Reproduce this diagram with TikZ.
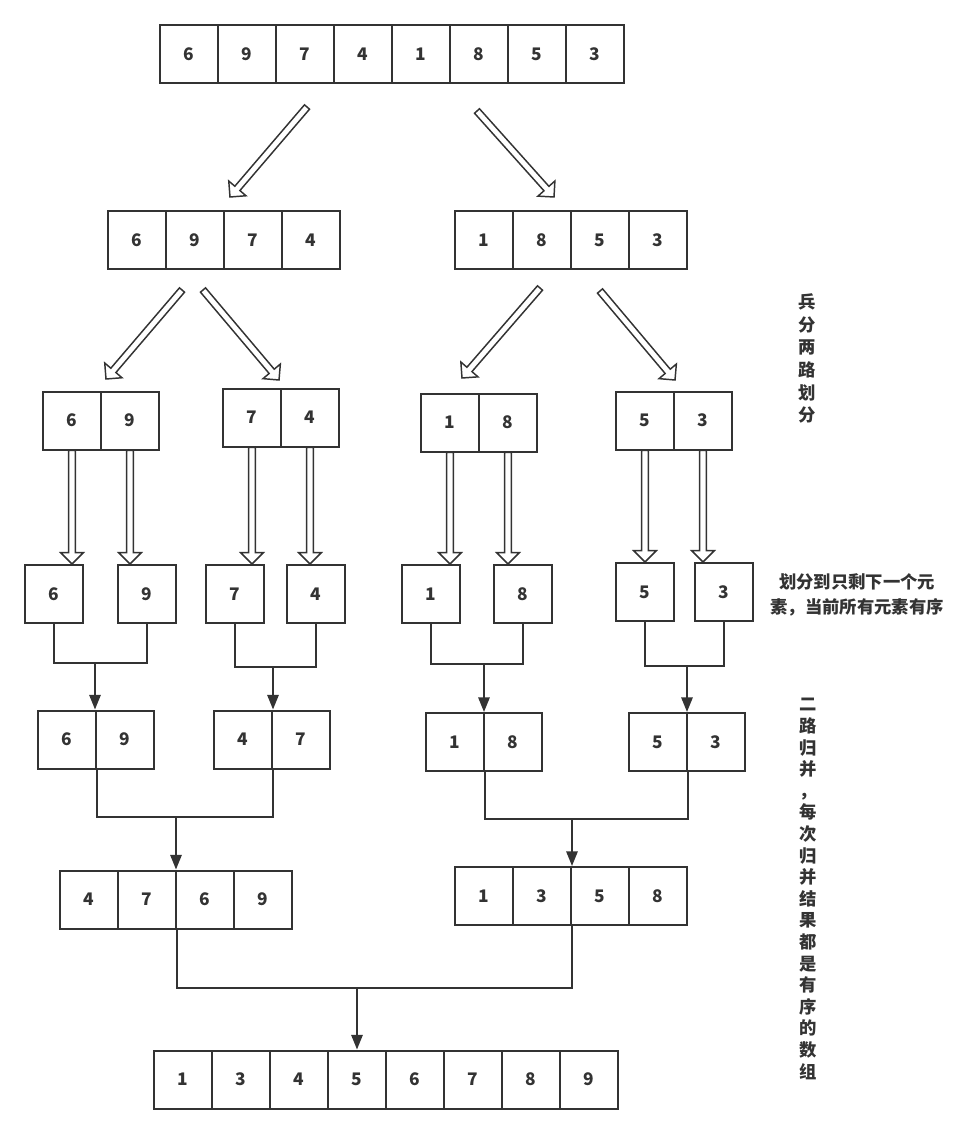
\documentclass[tikz,border=0pt]{standalone}
\usepackage{fontspec}
\newfontfamily\cjk{Noto Sans CJK SC}
\usetikzlibrary{calc,arrows.meta}
\definecolor{ink}{HTML}{333333}
\tikzset{
  cell/.style={draw=ink, line width=1.5pt, minimum width=43.5pt, minimum height=43.5pt, inner sep=0pt, font=\cjk\bfseries\fontsize{13}{15}\selectfont, text=ink},
  harrow/.style={draw=ink, line width=1.1pt, fill=white, line join=miter},
  conn/.style={draw=ink, line width=1.5pt},
  arr/.style={conn, -{Triangle[length=11pt,width=8.5pt]}},
  note/.style={font=\cjk\bfseries\fontsize{13}{#1}\selectfont, text=ink, align=center, inner sep=0pt},
}
\newcommand\cellrow[4]{\foreach \v [count=\i] in {#4} {\node[cell] (#1-\i) at ({#2+29+58*(\i-1)},#3) {\v};}}
\newcommand\hollowarrow[2]{%
  \coordinate (hb) at ($(#2)!8.5pt!(#1)$);
  \path[harrow] ($(#1)!2.5pt!90:(#2)$) -- ($(hb)!2.5pt!90:(#2)$) -- ($(hb)!8.5pt!90:(#2)$) -- (#2) -- ($(hb)!8.5pt!-90:(#2)$) -- ($(hb)!2.5pt!-90:(#2)$) -- ($(#1)!2.5pt!-90:(#2)$) -- cycle;
}
\begin{document}
\begin{tikzpicture}[x=0.75pt,y=-0.75pt]
\useasboundingbox (0,0) rectangle (976,1134);
% rows of cells
\cellrow{r1}{160}{54}{6,9,7,4,1,8,5,3}
\cellrow{r2a}{108}{240}{6,9,7,4}
\cellrow{r2b}{455}{240}{1,8,5,3}
\cellrow{r3a}{43}{420.5}{6,9}
\cellrow{r3b}{223}{417.5}{7,4}
\cellrow{r3c}{421}{422.5}{1,8}
\cellrow{r3d}{616}{420.5}{5,3}
\node[cell] (s6) at (53.5,594) {6};
\node[cell] (s9) at (147,594) {9};
\node[cell] (s7) at (235,594) {7};
\node[cell] (s4) at (316,594) {4};
\node[cell] (s1) at (430.5,594) {1};
\node[cell] (s8) at (523,594) {8};
\node[cell] (s5) at (645,592) {5};
\node[cell] (s3) at (724,592) {3};
\cellrow{m1}{38}{739.5}{6,9}
\cellrow{m2}{214}{739.5}{4,7}
\cellrow{m3}{426}{742}{1,8}
\cellrow{m4}{629}{742}{5,3}
\cellrow{n1}{60}{899.5}{4,7,6,9}
\cellrow{n2}{455}{896}{1,3,5,8}
\cellrow{f}{154}{1079.5}{1,3,4,5,6,7,8,9}
% diagonal hollow arrows
\coordinate (a1s) at (307,107); \coordinate (a1e) at (230,197);
\coordinate (a2s) at (477,111); \coordinate (a2e) at (554,197);
\coordinate (a3s) at (182,290); \coordinate (a3e) at (106,379);
\coordinate (a4s) at (203,290); \coordinate (a4e) at (279,380);
\coordinate (a5s) at (540,288); \coordinate (a5e) at (462,378);
\coordinate (a6s) at (600,291); \coordinate (a6e) at (675,380);
\hollowarrow{a1s}{a1e}
\hollowarrow{a2s}{a2e}
\hollowarrow{a3s}{a3e}
\hollowarrow{a4s}{a4e}
\hollowarrow{a5s}{a5e}
\hollowarrow{a6s}{a6e}
% vertical hollow arrows
\coordinate (v1) at (r3a-1.south |- s6.north);
\coordinate (v2) at (r3a-2.south |- s9.north);
\coordinate (v3) at (r3b-1.south |- s7.north);
\coordinate (v4) at (r3b-2.south |- s4.north);
\coordinate (v5) at (r3c-1.south |- s1.north);
\coordinate (v6) at (r3c-2.south |- s8.north);
\coordinate (v7) at (r3d-1.south |- s5.north);
\coordinate (v8) at (r3d-2.south |- s3.north);
\hollowarrow{r3a-1.south}{v1}
\hollowarrow{r3a-2.south}{v2}
\hollowarrow{r3b-1.south}{v3}
\hollowarrow{r3b-2.south}{v4}
\hollowarrow{r3c-1.south}{v5}
\hollowarrow{r3c-2.south}{v6}
\hollowarrow{r3d-1.south}{v7}
\hollowarrow{r3d-2.south}{v8}
% merge connectors
\coordinate (j1) at (95,663);
\coordinate (j2) at (273,667);
\coordinate (j3) at (484,664);
\coordinate (j4) at (687,666);
\coordinate (j5) at (176,817);
\coordinate (j6) at (572,819);
\coordinate (j7) at (357,988);
\draw[conn] (s6.south) |- (j1) -| (s9.south);
\draw[arr] (j1) -- (j1 |- m1-1.north);
\draw[conn] (s7.south) |- (j2) -| (s4.south);
\draw[arr] (j2) -- (j2 |- m2-1.north);
\draw[conn] (s1.south) |- (j3) -| (s8.south);
\draw[arr] (j3) -- (j3 |- m3-1.north);
\draw[conn] (s5.south) |- (j4) -| (s3.south);
\draw[arr] (j4) -- (j4 |- m4-1.north);
\draw[conn] (m1-1.south east) |- (j5) -| (m2-1.south east);
\draw[arr] (j5) -- (j5 |- n1-2.north);
\draw[conn] (m3-1.south east) |- (j6) -| (m4-1.south east);
\draw[arr] (j6) -- (j6 |- n2-2.north);
\draw[conn] (n1-2.south east) |- (j7) -| (n2-2.south east);
\draw[arr] (j7) -- (f-4.north);
% notes
\node[note=17pt] (t1) at (807,358.5) {兵\\分\\两\\路\\划\\分};
\node[note=18.75pt] (t2) at (857,594.5) {划分到只剩下一个元\\素，当前所有元素有序};
\node[note=16.2pt] (t3) at (808,889) {二\\路\\归\\并\\，\\每\\次\\归\\并\\结\\果\\都\\是\\有\\序\\的\\数\\组};
\end{tikzpicture}
\end{document}
